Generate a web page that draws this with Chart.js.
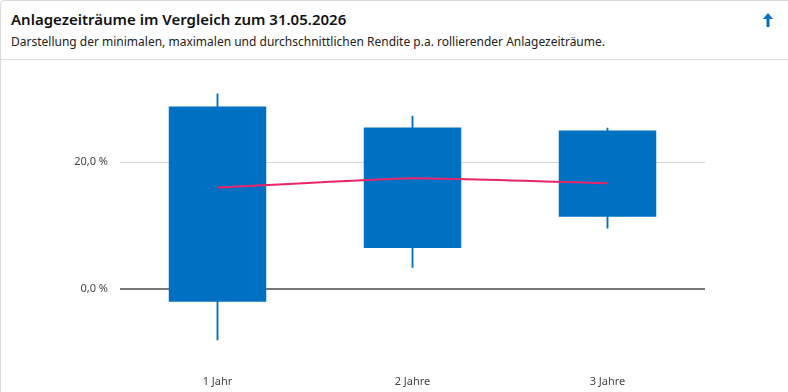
<!DOCTYPE html>
<html lang="de">
<head>
<meta charset="utf-8">
<title>Anlagezeiträume im Vergleich</title>
<script src="https://cdn.jsdelivr.net/npm/chart.js@4/dist/chart.umd.min.js"></script>
<style>
  html, body { margin: 0; padding: 0; background: #fff; }
  body { width: 788px; height: 392px; overflow: hidden; font-family: "Noto Sans", "Open Sans", sans-serif; }
  .card { position: absolute; left: 0; top: 0; width: 800px; height: 400px; border: 1px solid #d9d9d9; border-radius: 4px; box-sizing: border-box; }
  .head { position: absolute; left: 0; top: 0; width: 788px; height: 59px; border-bottom: 1px solid #dcdcdc; }
  .title { position: absolute; left: 11px; top: 9px; font-size: 15px; font-weight: 600; color: #111; }
  .sub { position: absolute; left: 11px; top: 33px; font-size: 12px; color: #222; }
  .arrow { position: absolute; left: 762px; top: 12px; }
  .wrap { position: absolute; left: 0; top: 60px; width: 788px; height: 332px; }
</style>
</head>
<body>
<div class="card"></div>
<div class="head">
  <div class="title">Anlagezeiträume im Vergleich zum 31.05.2026</div>
  <div class="sub">Darstellung der minimalen, maximalen und durchschnittlichen Rendite p.a. rollierender Anlagezeiträume.</div>
  <svg class="arrow" width="12" height="16" viewBox="0 0 12 16">
    <path d="M6 1 L11 7 L7.5 7 L7.5 15 L4.5 15 L4.5 7 L1 7 Z" fill="#0070c3"/>
  </svg>
</div>
<div class="wrap"><canvas id="rangeChart"></canvas></div>
<script>
  // Werte (in %)
  const periods = ['1 Jahr', '2 Jahre', '3 Jahre'];
  const minValues = [-8.0, 3.4, 9.6];
  const maxValues = [30.8, 27.3, 25.4];
  const boxLow = [-2.0, 6.5, 11.4];
  const boxHigh = [28.8, 25.5, 25.0];
  const avgValues = [16.0, 17.5, 16.7];
  const yTicks = [0, 20];

  const blue = '#0070c3';
  const pink = '#e8246a';

  const fmtPct = v => v.toFixed(1).replace('.', ',') + ' %';

  const ctx = document.getElementById('rangeChart').getContext('2d');
  const rangeChart = new Chart(ctx, {
    type: 'bar',
    data: {
      labels: periods,
      datasets: [
        {
          type: 'line',
          label: 'Durchschnitt',
          data: avgValues,
          borderColor: pink,
          borderWidth: 2,
          pointRadius: 0,
          tension: 0.15,
          order: 0
        },
        {
          label: 'Spanne',
          data: boxLow.map((v, i) => [v, boxHigh[i]]),
          backgroundColor: blue,
          barPercentage: 0.5,
          categoryPercentage: 1,
          order: 1
        },
        {
          label: 'Min/Max',
          data: minValues.map((v, i) => [v, maxValues[i]]),
          backgroundColor: blue,
          barThickness: 1.2,
          order: 2
        }
      ]
    },
    options: {
      responsive: true,
      maintainAspectRatio: false,
      animation: false,
      grouped: false,
      layout: { padding: { top: 7, right: 83, left: 0, bottom: 0 } },
      plugins: {
        legend: { display: false },
        tooltip: { enabled: false }
      },
      scales: {
        x: {
          grid: { display: false },
          border: { display: false },
          ticks: { color: '#444', font: { family: 'Noto Sans', size: 11 }, padding: 15 },
          afterFit: s => { s.height = 332 - 292.5; }
        },
        y: {
          min: -10,
          max: 33.2,
          border: { display: false },
          grid: {
            drawTicks: false,
            color: c => c.tick.value === 0 ? '#777' : '#d4d4d4',
            lineWidth: c => c.tick.value === 0 ? 2 : 1
          },
          ticks: {
            color: '#444',
            padding: 12,
            font: { family: 'Noto Sans', size: 11 },
            callback: v => fmtPct(v)
          },
          afterBuildTicks: s => { s.ticks = yTicks.map(v => ({ value: v })); },
          afterFit: s => { s.width = 120; }
        }
      }
    }
  });
</script>
</body>
</html>
